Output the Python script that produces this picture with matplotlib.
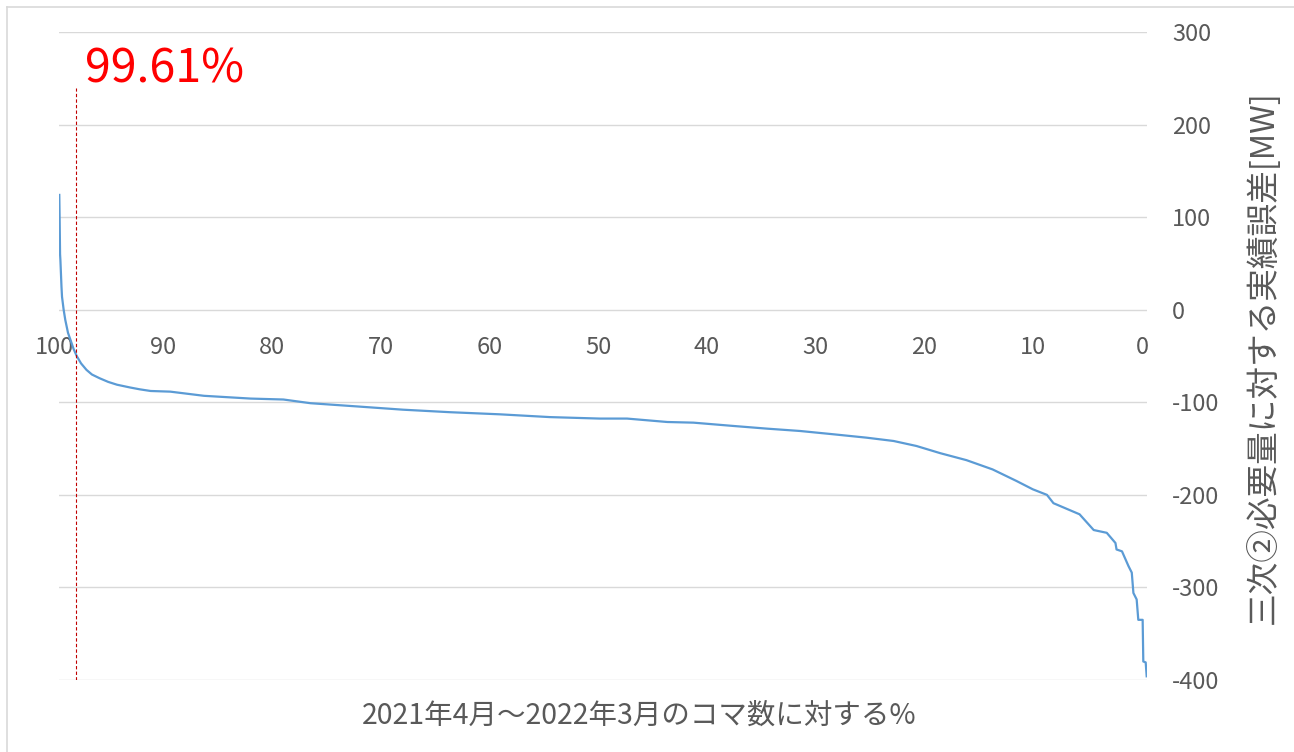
import numpy as np
import matplotlib.pyplot as plt
import matplotlib.transforms as mtransforms
from matplotlib.lines import Line2D

plt.rcParams['font.family'] = ['Noto Sans CJK JP', 'DejaVu Sans']
plt.rcParams['axes.unicode_minus'] = False

# duration curve: % of slots vs error [MW]
pct = [100, 99.97, 99.93, 99.9, 99.8, 99.75, 99.6, 99.45, 99.2, 98.99, 98.7,
       98.4, 98.0, 97.5, 97.0, 96.3, 95.5, 94.7, 93.5, 92.6, 91.6, 89.8, 86.7,
       82.4, 79.4, 76.9, 72.6, 68.4, 64.1, 59.5, 54.9, 50.3, 47.8, 44.1, 41.7,
       38.0, 34.9, 31.9, 28.8, 25.8, 23.3, 21.2, 19.0, 16.6, 14.2, 12.0, 10.5,
       9.2, 8.6, 8.0, 6.2, 4.9, 3.7, 2.9, 2.8, 2.3, 1.7, 1.4, 1.25, 0.95, 0.8,
       0.4, 0.34, 0.12, 0.03]
err = [124, 100, 60, 54, 25, 14, 0, -11, -25, -32, -42,
       -50, -58, -65, -70, -74, -78, -81, -84, -86, -87.8, -88.5, -93,
       -96, -97, -101, -104.5, -108, -110.7, -113, -116, -117.6, -117.6, -121.3, -122,
       -125.6, -128.5, -131, -134.6, -138.2, -141.8, -147.2, -155, -162.5, -172.5, -185, -194,
       -200, -209, -212, -221, -238, -241, -252, -259, -261, -277, -284, -306, -313, -335,
       -335, -380, -381, -396]

xticks = [100, 90, 80, 70, 60, 50, 40, 30, 20, 10, 0]
yticks = [300, 200, 100, 0, -100, -200, -300, -400]
marker_pct = 98.5
marker_label = "99.61%"

W, H = 1294, 752
fig = plt.figure(figsize=(W / 100, H / 100), dpi=100)
ax = fig.add_axes([59.3 / W, 1 - 680 / H, (1147 - 59.3) / W, (680 - 32) / H])

ax.plot(pct, err, color="#5B9BD5", lw=1.6, zorder=3)
ax.plot([marker_pct, marker_pct], [-400, 239], color="#C00000", lw=0.8,
        linestyle=(0, (3, 2)), zorder=4)
ax.text(97.65, 245, marker_label, color="#FF0000", fontsize=33.5, va="baseline", ha="left")

ax.set_xlim(100, 0)
ax.set_ylim(-400, 300)
ax.set_yticks(yticks)
ax.set_xticks(xticks)
ax.yaxis.grid(True, color="#D9D9D9", lw=1)
ax.set_axisbelow(True)

for s in ["top", "left", "right"]:
    ax.spines[s].set_visible(False)
ax.spines["bottom"].set_position(("data", 0))
ax.spines["bottom"].set_visible(False)

ax.yaxis.tick_right()
ax.tick_params(axis="y", length=0, pad=18, labelsize=17, labelcolor="#595959")
ax.tick_params(axis="x", length=0, pad=27, labelsize=17, labelcolor="#595959")
plt.setp(ax.get_xticklabels(), va="center")
shift = mtransforms.ScaledTranslation(-5 / 100, 0, fig.dpi_scale_trans)
for lab in ax.get_xticklabels():
    lab.set_transform(lab.get_transform() + shift)

fig.text(1263 / W, 1 - 357 / H, "三次②必要量に対する実績誤差[MW]", rotation=90,
         ha="center", va="center", fontsize=23.5, color="#595959")
fig.text(639.5 / W, 1 - 716 / H, "2021年4月～2022年3月のコマ数に対する%",
         ha="center", va="center", fontsize=20.5, color="#595959")

# outer chart frame
fig.add_artist(Line2D([7 / W, 7 / W], [0, 1 - 7 / H], transform=fig.transFigure,
                      color="#D9D9D9", lw=1.2))
fig.add_artist(Line2D([7 / W, 1], [1 - 7 / H, 1 - 7 / H], transform=fig.transFigure,
                      color="#D9D9D9", lw=1.2))

fig.savefig("out.png", dpi=100)
